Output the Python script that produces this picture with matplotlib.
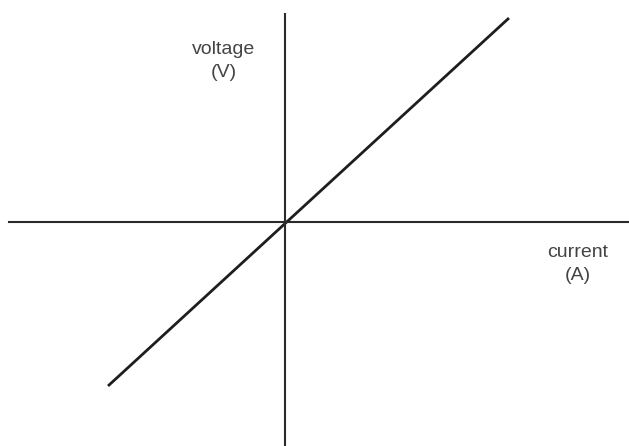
import numpy as np
import matplotlib
matplotlib.use('Agg')
import matplotlib.pyplot as plt

# I-V line of an ohmic conductor (arbitrary units, origin at the axes crossing)
current = [-1.77, 2.24]
voltage = [-1.64, 2.04]

x_label = 'current\n(A)'
y_label = 'voltage\n(V)'

plt.rcParams['font.family'] = ['Liberation Sans', 'DejaVu Sans']

fig = plt.figure(figsize=(6.29, 4.46), dpi=100)
ax = fig.add_axes([0, 0, 1, 1])
ax.set_xlim(-2.85, 3.44)
ax.set_ylim(-2.24, 2.22)

# axes drawn through the origin
for s in ['top', 'right']:
	ax.spines[s].set_visible(False)
ax.spines['left'].set_position(('data', 0))
ax.spines['bottom'].set_position(('data', 0))
ax.spines['left'].set_bounds(-2.24, 2.08)
ax.spines['bottom'].set_bounds(-2.76, 3.44)
for s in ['left', 'bottom']:
	ax.spines[s].set_linewidth(1.5)
	ax.spines[s].set_color('#2a2a2a')
ax.set_xticks([])
ax.set_yticks([])

ax.plot(current, voltage, color='#1e1e1e', lw=2.0, solid_capstyle='butt')

ax.text(-0.61, 1.61, y_label, ha='center', va='center', fontsize=14,
	color='#444444', linespacing=1.5)
ax.text(2.93, -0.42, x_label, ha='center', va='center', fontsize=14,
	color='#444444', linespacing=1.5)

fig.savefig('out.png', dpi=100)
